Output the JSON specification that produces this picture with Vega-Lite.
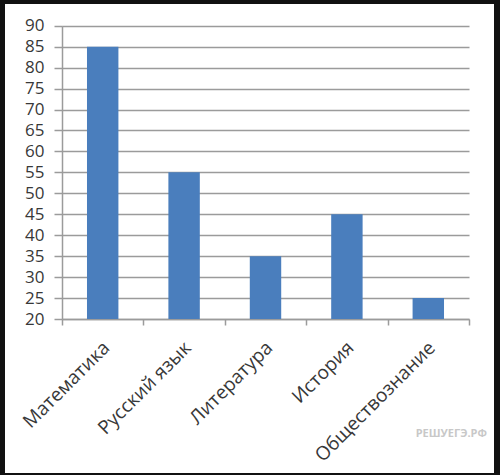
{
  "$schema": "https://vega.github.io/schema/vega-lite/v6.json",
  "width": 489,
  "height": 469,
  "autosize": {"type": "none"},
  "padding": {"left": 5, "top": 4, "right": 6, "bottom": 2},
  "background": "#111111",
  "config": {"view": {"fill": "white", "stroke": null}, "font": "Open Sans"},
  "title": {"text": "РЕШУЕГЭ.РФ", "orient": "bottom", "anchor": "end", "frame": "group", "offset": -45, "dx": -7, "fontSize": 11, "fontWeight": "bold", "color": "#c8c8c8"},
  "data": {"values": [
    {"subject": "Математика", "value": 85},
    {"subject": "Русский язык", "value": 55},
    {"subject": "Литература", "value": 35},
    {"subject": "История", "value": 45},
    {"subject": "Обществознание", "value": 25}
  ]},
  "mark": {"type": "bar", "color": "#4a7ebd", "width": {"band": 0.386}},
  "encoding": {
    "x": {
      "field": "subject", "type": "nominal", "sort": null,
      "scale": {"range": [57, 464], "paddingInner": 0, "paddingOuter": 0},
      "axis": {"title": null, "grid": false, "domainColor": "#9b9b9b", "domainWidth": 1.5, "tickBand": "extent", "tickSize": 6, "tickColor": "#9b9b9b", "tickWidth": 1.5, "labelAngle": -45, "labelAlign": "right", "labelBaseline": "top", "labelPadding": 13, "labelOffset": -3, "labelFontSize": 19, "labelColor": "#383838", "labelOverlap": false, "offset": -154}
    },
    "y": {
      "field": "value", "type": "quantitative",
      "scale": {"domain": [20, 90], "range": [315, 21.7], "nice": false, "zero": false},
      "axis": {"title": null, "values": [20, 25, 30, 35, 40, 45, 50, 55, 60, 65, 70, 75, 80, 85, 90], "grid": true, "gridColor": "#9b9b9b", "gridWidth": 1.5, "domainColor": "#9b9b9b", "domainWidth": 1.5, "tickColor": "#9b9b9b", "tickWidth": 1.5, "tickSize": 8, "labelPadding": 10, "labelFontSize": 17, "labelColor": "#383838", "labelOverlap": false, "offset": -57}
    },
    "y2": {"datum": 20}
  }
}
